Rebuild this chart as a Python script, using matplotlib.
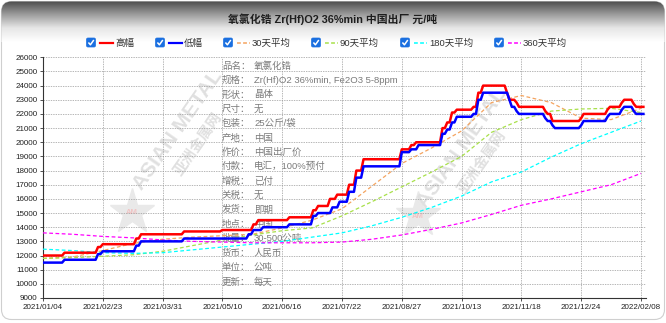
import numpy as np
import matplotlib
matplotlib.use("Agg")
import matplotlib.pyplot as plt
from matplotlib.patches import FancyBboxPatch
from matplotlib.colors import LinearSegmentedColormap

plt.rcParams["font.family"] = ["Liberation Sans", "Noto Sans CJK SC", "DejaVu Sans"]

W, H = 666, 323
N_DAYS = 252

# x axis: trading-day index, one label every 25 days
tick_days = [0, 25, 50, 75, 100, 125, 150, 175, 200, 225, 250]
tick_labels = ["2021/01/04", "2021/02/23", "2021/03/31", "2021/05/10", "2021/06/16",
               "2021/07/22", "2021/08/27", "2021/10/13", "2021/11/18", "2021/12/24",
               "2022/02/08"]

# high price: day where each level starts, and the level
high_start = [0, 9, 23, 25, 39, 41, 59, 75, 88, 90,
              103, 113, 115, 120, 123, 128, 131, 134, 150, 154,
              156, 167, 169, 171, 173, 180, 182, 184, 194, 195,
              198, 199, 210, 211, 213, 225, 226, 236, 237, 242,
              243, 247, 248]
high_vals = [12000, 12200, 12600, 12800, 13200, 13500, 13700, 13800, 14200, 14500,
             14700, 15200, 15500, 16000, 16300, 17000, 18000, 18800, 19500, 19800,
             20000, 21000, 21400, 22100, 22300, 22500, 23500, 24000, 23500, 23000,
             22800, 22500, 22200, 22000, 21500, 21700, 22000, 22300, 22500, 22800,
             23000, 22700, 22500]

# low price
low_start = [0, 9, 23, 25, 39, 41, 59, 86, 88, 92,
             103, 113, 115, 121, 124, 128, 131, 134, 150, 154,
             157, 167, 169, 171, 173, 180, 182, 184, 195, 196,
             198, 199, 210, 211, 213, 214, 225, 226, 236, 237,
             242, 243, 247, 248]
low_vals = [11500, 11700, 12100, 12300, 12700, 13000, 13200, 13500, 13800, 14000,
            14200, 14800, 15000, 15400, 15800, 16500, 17500, 18300, 19300, 19500,
            19800, 20600, 20900, 21400, 21800, 22000, 23000, 23500, 23000, 22500,
            22200, 22000, 21700, 21500, 21200, 21000, 21200, 21500, 21800, 22000,
            22300, 22500, 22200, 22000]

# moving averages, read every half tick
ma_days = [0, 12.5, 25, 37.5, 50, 62.5, 75, 87.5, 100, 112.5, 125,
           137.5, 150, 162.5, 175, 187.5, 200, 212.5, 225, 237.5, 250]
ma30 = [11800, 11900, 12350, 12850, 13150, 13300, 13400, 13500, 13950, 14500, 15300,
        16900, 18500, 19600, 20800, 22800, 23300, 22800, 21700, 21600, 22400]
ma90 = [11800, 11850, 11950, 12050, 12300, 12700, 13100, 13450, 13750, 13950, 14800,
        15800, 16850, 17900, 19000, 20700, 21600, 22200, 22350, 22400, 22100]
ma180 = [12450, 12350, 12200, 12150, 12200, 12400, 12600, 12800, 13000, 13300, 13600,
         14100, 14700, 15400, 16200, 17200, 17900, 18950, 19900, 20700, 21500]
ma360 = [13600, 13500, 13350, 13250, 13100, 13000, 12950, 12900, 12900, 12900, 12950,
         13150, 13450, 13850, 14300, 14900, 15550, 16000, 16500, 17000, 17800]

info_keys = ["品名：", "规格：", "形状：", "尺寸：", "包装：", "产地：", "作价：", "付款：",
             "增税：", "关税：", "发货：", "地点：", "批量：", "货币：", "单位：", "更新："]
info_vals = ["氧氯化锆", "Zr(Hf)O2 36%min, Fe2O3 5-8ppm", "晶体", "无", "25公斤/袋", "中国",
             "中国出厂价", "电汇，100%预付", "已付", "无", "即期", "中国", "30-500公吨",
             "人民币", "公吨", "每天"]


def expand(starts, vals):
    lengths = np.diff(starts + [N_DAYS])
    return np.repeat(vals, lengths)


high = expand(high_start, high_vals)
low = expand(low_start, low_vals)
days = np.arange(N_DAYS)

fig = plt.figure(figsize=(W / 100, H / 100), dpi=100)

# background layer in pixel coordinates
bg = fig.add_axes([0, 0, 1, 1])
bg.axis("off")
card = FancyBboxPatch((1.5, 1.5), W - 3, H - 5, boxstyle="round,pad=0,rounding_size=10",
                      fc="white", ec="#cfcfcf", lw=0.8, zorder=0)
bg.add_patch(card)
cmap = LinearSegmentedColormap.from_list("hdr", ["#474747", "#9a9a9a", "#e6e6e6", "#ffffff"])
img = bg.imshow(np.linspace(0, 1, 80)[:, None], cmap=cmap, extent=(0, W, 42, 0),
                aspect="auto", zorder=1)
img.set_clip_path(card)
bg.set_xlim(0, W)
bg.set_ylim(H, 0)

bg.text(333, 19, "氧氯化锆 Zr(Hf)O2 36%min 中国出厂 元/吨", ha="center", va="center",
        fontsize=7.8, fontweight="bold", color="#1e1e1e",
        family=["Liberation Sans", "Noto Sans CJK SC"])

# legend with checkboxes
legend_items = [
    (91, "高幅", "#ff0000", "-"),
    (160, "低幅", "#0000ff", "-"),
    (228, "30天平均", "#f4a460", "--"),
    (316, "90天平均", "#a8e04a", "--"),
    (405, "180天平均", "#00ffff", "--"),
    (499, "360天平均", "#ff00ff", "--"),
]
ly = 43
for x, label, color, ls in legend_items:
    box = FancyBboxPatch((x - 4.5, ly - 5), 9, 9, boxstyle="round,pad=0,rounding_size=1.5",
                         fc="#1a6fe0", ec="#1a6fe0", lw=0.5, zorder=3)
    bg.add_patch(box)
    bg.plot([x - 2.6, x - 0.6, x + 2.8], [ly - 0.5, ly + 1.8, ly - 3], color="white",
            lw=1.1, zorder=4, solid_capstyle="butt")
    bg.plot([x + 9, x + 22], [ly, ly], color=color, lw=1.6 if ls == "-" else 1.1,
            linestyle="-" if ls == "-" else (0, (2.5, 1.5)), zorder=3)
    bg.text(x + 24, ly, label, ha="left", va="center", fontsize=6.8, color="#333333")

# watermarks
wm_color = "#e0e0e0"
for sx, sy, tx, ty in [(132, 212, 178, 130), (418, 215, 462, 148)]:
    bg.plot(sx, sy, marker="*", markersize=34, color="#e9e9e9", zorder=1.5)
    bg.text(sx, sy + 1, "AM", ha="center", va="center", fontsize=5.5, color="#f0c4c4",
            fontweight="bold", zorder=1.6)
    bg.text(tx, ty, "ASIAN METAL", rotation=55, ha="center", va="center", fontsize=15,
            fontweight="bold", color=wm_color, zorder=1.5)
    bg.text(tx + 20, ty + 14, "亚洲金属网", rotation=55, ha="center", va="center",
            fontsize=10.5, fontweight="bold", color=wm_color, zorder=1.5,
            family=["Noto Sans CJK SC"])

# product info block
for i, (k, v) in enumerate(zip(info_keys, info_vals)):
    y = 66 + i * 14.4
    bg.text(222, y, k, ha="left", va="center", fontsize=6.8, color="#7a7a7a", zorder=2)
    bg.text(254, y, v, ha="left", va="center", fontsize=6.8, color="#7a7a7a", zorder=2)

# main chart
ax = fig.add_axes([43 / W, 1 - 298 / H, (646 - 43) / W, (298 - 57.3) / H])
ax.patch.set_alpha(0)
ax.plot(days, high, color="#ff0000", lw=1.8, zorder=5)
ax.plot(days, low, color="#0000ff", lw=1.8, zorder=5)
dash = (0, (3, 2))
ax.plot(ma_days, ma30, color="#f4a460", lw=0.9, linestyle=dash, zorder=4)
ax.plot(ma_days, ma90, color="#a8e04a", lw=0.9, linestyle=dash, zorder=4)
ax.plot(ma_days, ma180, color="#00ffff", lw=0.9, linestyle=dash, zorder=4)
ax.plot(ma_days, ma360, color="#ff00ff", lw=0.9, linestyle=dash, zorder=4)

ax.set_xlim(0, (646 - 43) / 2.392)
ax.set_ylim(9000, 26000)
ax.set_yticks(np.arange(9000, 26001, 1000))
ax.set_xticks(tick_days)
ax.set_xticklabels(tick_labels)
ax.tick_params(axis="both", labelsize=5.8, length=2.5, width=0.6, color="#333333",
               labelcolor="#222222", pad=1.5)
ax.grid(True, color="#9a9a9a", lw=0.5, linestyle=(0, (2, 1.5)))
for side in ["top", "right"]:
    ax.spines[side].set_visible(False)
for side in ["left", "bottom"]:
    ax.spines[side].set_color("#333333")
    ax.spines[side].set_linewidth(0.8)

fig.savefig("out.png", dpi=100)
